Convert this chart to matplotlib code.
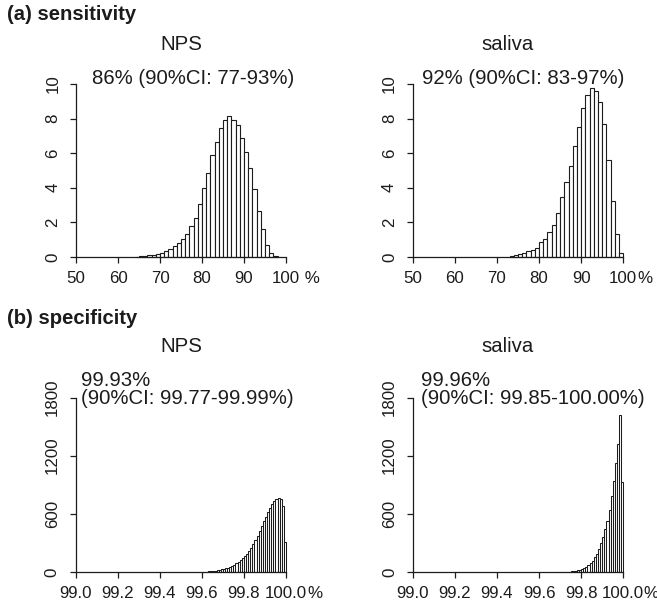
import matplotlib

matplotlib.use("Agg")
import matplotlib.pyplot as plt
import numpy as np

plt.rcParams["font.family"] = ["Liberation Sans", "DejaVu Sans"]

# (a) sensitivity: percent of posterior draws per 1% bin
sens_nps_start = 64
sens_nps = [0.02, 0.04, 0.08, 0.10, 0.13, 0.19, 0.25, 0.33, 0.46, 0.63,
            0.79, 1.02, 1.33, 1.81, 2.23, 3.06, 4.00, 4.87, 5.88, 6.63,
            7.48, 7.92, 8.15, 7.90, 7.65, 6.90, 6.05, 5.15, 3.92, 2.65,
            1.62, 0.70, 0.22, 0.08]
sens_sal_start = 73
sens_sal = [0.06, 0.12, 0.19, 0.25, 0.35, 0.38, 0.52, 0.85, 1.04, 1.42,
            1.85, 2.52, 3.46, 4.35, 5.27, 6.42, 7.50, 8.60, 9.37, 9.75,
            9.62, 8.94, 7.69, 5.62, 3.21, 1.31, 0.23]

# (b) specificity: counts per 0.01% bin
spec_nps_start = 99.60
spec_nps = [3, 4, 5, 6, 8, 10, 13, 17, 21, 26,
            32, 38, 46, 55, 65, 77, 91, 107, 125, 146,
            165, 190, 218, 250, 288, 330, 375, 422, 472, 522,
            572, 620, 663, 700, 735, 755, 765, 748, 685, 310]
spec_sal_start = 99.69
spec_sal = [2, 2, 2, 3, 4, 5, 7, 9, 12, 17, 23,
            31, 41, 54, 71, 92, 118, 150, 190, 238, 295,
            360, 440, 530, 640, 780, 940, 1120, 1320, 1620, 930]

sens_ticks = [50, 60, 70, 80, 90, 100]
spec_ticks = [99.0, 99.2, 99.4, 99.6, 99.8, 100.0]

W, H = 657, 607
fig = plt.figure(figsize=(W / 100, H / 100), dpi=100)
INK = "#1c1c1c"
TEXT_SIZE = 14.7


def px(x, y):
    return x / W, 1 - y / H


def axes_px(left, right, bottom, top):
    return fig.add_axes([left / W, 1 - bottom / H, (right - left) / W, (bottom - top) / H])


def style(ax, xlim, ylim, xticks, xlabels, yticks):
    ax.set_xlim(*xlim)
    ax.set_ylim(*ylim)
    ax.spines[["top", "right"]].set_visible(False)
    for side in ("left", "bottom"):
        ax.spines[side].set_linewidth(0.9)
        ax.spines[side].set_color(INK)
    ax.spines["left"].set_bounds(*ylim)
    ax.spines["bottom"].set_bounds(*xlim)
    ax.set_xticks(xticks, xlabels)
    ax.set_yticks(yticks, [str(t) for t in yticks])
    ax.tick_params(axis="both", direction="out", length=4.3, width=0.9, color=INK,
                   labelsize=12.2, labelcolor=INK)
    ax.tick_params(axis="x", pad=5.5)
    ax.tick_params(axis="y", pad=7)
    for lab in ax.get_yticklabels():
        lab.set_rotation(90)
        lab.set_va("center")
    ax.set_facecolor("none")


def hist(ax, start, width, values, lw):
    edges = start + width * np.arange(len(values))
    ax.bar(edges, values, width=width, align="edge", color="white",
           edgecolor=INK, linewidth=lw, clip_on=False)


# sensitivity panels
ax1 = axes_px(76, 286, 257, 84)
hist(ax1, sens_nps_start, 1.0, sens_nps, 0.8)
style(ax1, (50, 100), (0, 10), sens_ticks,
      ["50", "60", "70", "80", "90", "100"], [0, 2, 4, 6, 8, 10])

ax2 = axes_px(412.7, 623.3, 257, 84)
hist(ax2, sens_sal_start, 1.0, sens_sal, 0.8)
style(ax2, (50, 100), (0, 10), sens_ticks,
      ["50", "60", "70", "80", "90", "100"], [0, 2, 4, 6, 8, 10])

# specificity panels
ax3 = axes_px(75.5, 286, 572, 397.5)
hist(ax3, spec_nps_start, 0.01, spec_nps, 0.75)
style(ax3, (99.0, 100.0), (0, 1800), spec_ticks,
      ["99.0", "99.2", "99.4", "99.6", "99.8", "100.0"], [0, 600, 1200, 1800])

ax4 = axes_px(412.7, 623.3, 572, 397.5)
hist(ax4, spec_sal_start, 0.01, spec_sal, 0.75)
style(ax4, (99.0, 100.0), (0, 1800), spec_ticks,
      ["99.0", "99.2", "99.4", "99.6", "99.8", "100.0"], [0, 600, 1200, 1800])

# the percent sign sits just after the last tick label, as in the original
fig.canvas.draw()
renderer = fig.canvas.get_renderer()
for ax, suffix, nudge in ((ax1, " %", 0), (ax2, "%", 0), (ax3, "%", 0), (ax4, "%", 1)):
    bb = ax.get_xticklabels()[-1].get_window_extent(renderer)
    right_limit = fig.bbox.width - 3
    x0 = min(bb.x1 + nudge, right_limit - 10.8)
    fig.text(x0 / fig.bbox.width, bb.y0 / fig.bbox.height, suffix,
             fontsize=12.2, color=INK, ha="left", va="bottom")

# headings and annotations
fig.text(*px(7, 15), "(a) sensitivity", fontsize=14.6, fontweight="bold",
         color=INK, ha="left", va="center")
fig.text(*px(7, 318), "(b) specificity", fontsize=14.6, fontweight="bold",
         color=INK, ha="left", va="center")

for cx, name in ((181, "NPS"), (508, "saliva")):
    fig.text(*px(cx, 44), name, fontsize=TEXT_SIZE, color=INK, ha="center", va="center")
    fig.text(*px(cx, 347), name, fontsize=TEXT_SIZE, color=INK, ha="center", va="center")

fig.text(*px(193, 78), "86% (90%CI: 77-93%)", fontsize=TEXT_SIZE, color=INK,
         ha="center", va="center")
fig.text(*px(523.5, 78), "92% (90%CI: 83-97%)", fontsize=TEXT_SIZE, color=INK,
         ha="center", va="center")

fig.text(*px(81, 380), "99.93%", fontsize=TEXT_SIZE, color=INK, ha="left", va="center")
fig.text(*px(81, 398), "(90%CI: 99.77-99.99%)", fontsize=TEXT_SIZE, color=INK,
         ha="left", va="center")
fig.text(*px(421, 380), "99.96%", fontsize=TEXT_SIZE, color=INK, ha="left", va="center")
fig.text(*px(421, 398), "(90%CI: 99.85-100.00%)", fontsize=TEXT_SIZE, color=INK,
         ha="left", va="center")

fig.savefig("out.png", dpi=100, facecolor="white")
